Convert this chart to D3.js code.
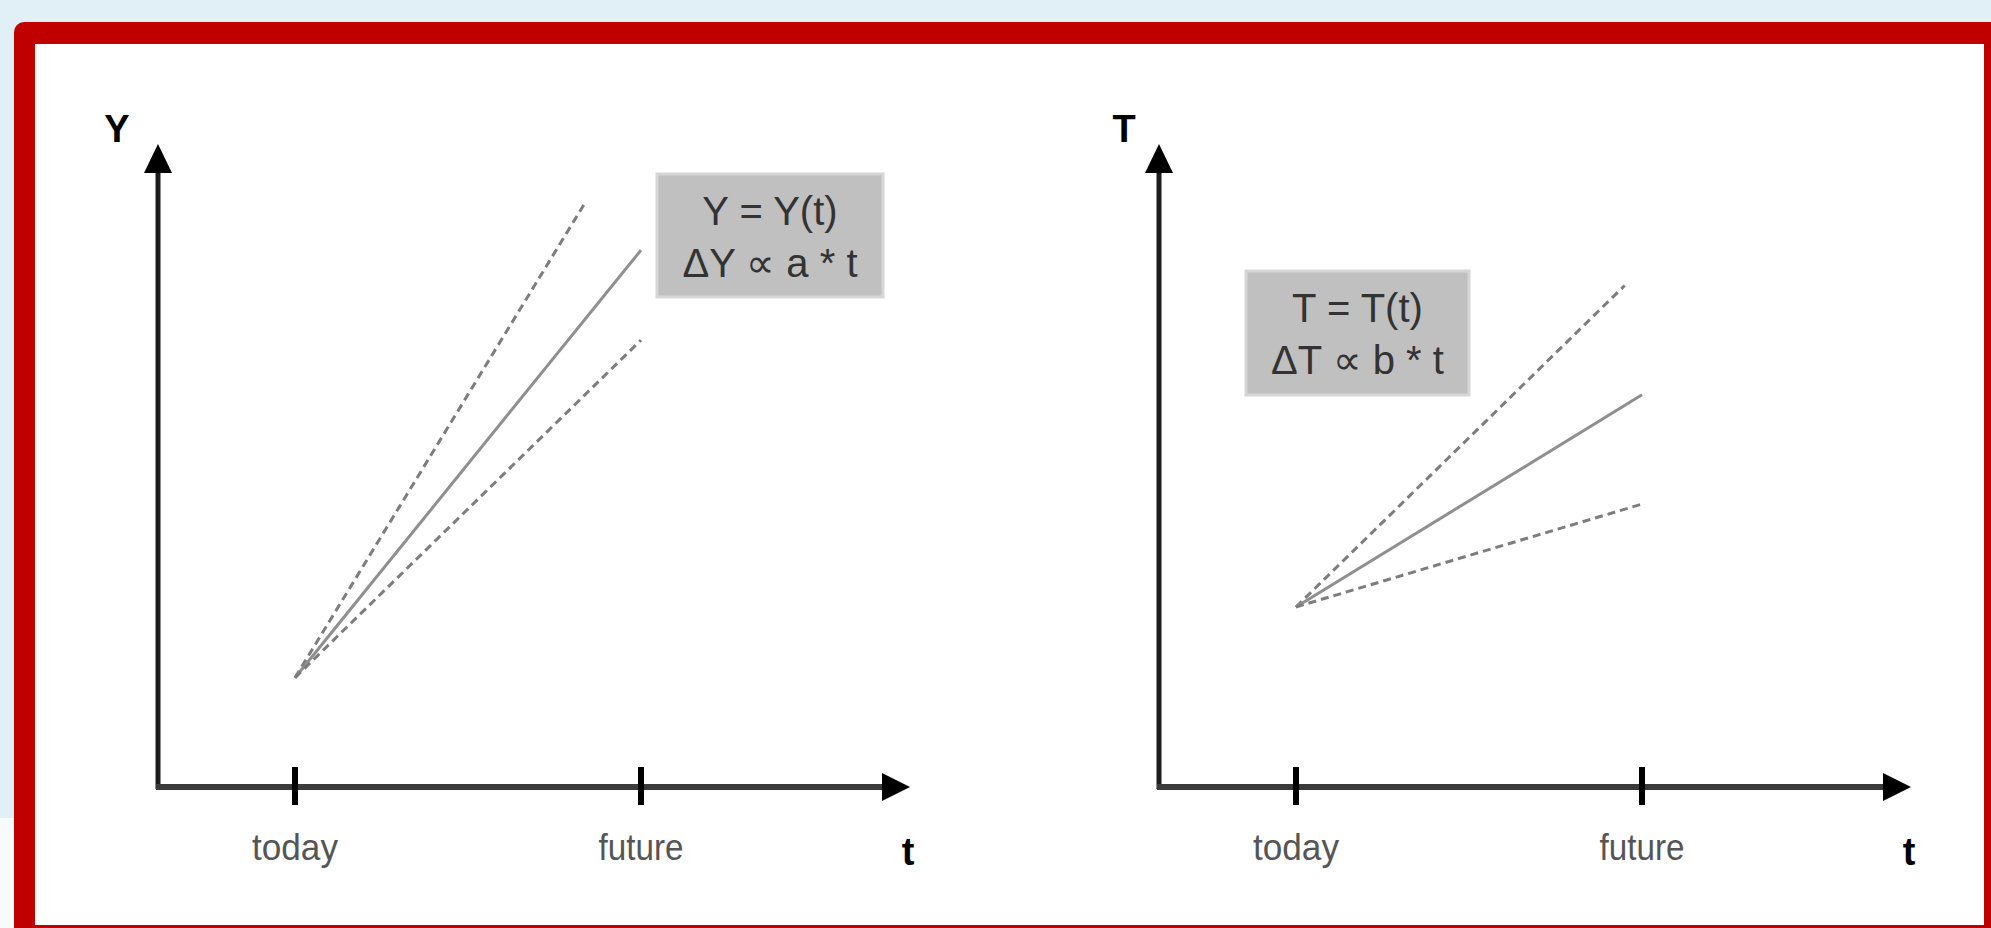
<!DOCTYPE html>
<html>
<head>
<meta charset="utf-8">
<script src="https://cdn.jsdelivr.net/npm/d3@7/dist/d3.min.js"></script>
<style>
  html, body { margin: 0; padding: 0; background: #e1eff7; overflow: hidden; }
  svg { display: block; }
</style>
</head>
<body>
<svg id="chart" width="1991" height="928"></svg>
<script>
// ---- data ----
const tickLabels = ["today", "future"];
const tickValues = [0, 1];
const yAxisLabels = ["Y", "T"];
const xAxisLabel = "t";
const formulaLine1 = ["Y = Y(t)", "T = T(t)"];
const formulaLine2 = ["ΔY ∝ a * t", "ΔT ∝ b * t"];
const seriesNames = ["upper", "central", "lower"];
const startValues = [17, 28];              // value "today" for each panel
const endTimes = [[0.84, 1.0, 1.0], [0.95, 1.0, 1.0]];   // per panel, per series
const endValues = [[91, 83.5, 69.5], [78, 61, 44]];      // per panel, per series

// ---- layout ----
const svg = d3.select("#chart");
const W = 1991, H = 928;

// frame
svg.append("rect").attr("x", 0).attr("y", 818).attr("width", 14).attr("height", 110).attr("fill", "#f8fbfd");
svg.append("rect").attr("x", 14).attr("y", 22).attr("width", W).attr("height", H).attr("rx", 10).attr("fill", "#c00000");
svg.append("rect").attr("x", 35).attr("y", 44).attr("width", 1984 - 35).attr("height", 925 - 44).attr("fill", "#ffffff");

const panels = [
  { ox: 158, box: { x: 657, y: 174, w: 226, h: 123 } },
  { ox: 1159, box: { x: 1246, y: 271, w: 223, h: 124 } }
];
const baseY = 787, topY = 144, axisLen = 752;
const font = "'Liberation Sans', Arial, sans-serif";

panels.forEach((p, i) => {
  const g = svg.append("g");
  const x = d3.scaleLinear().domain([0, 1]).range([p.ox + 137, p.ox + 483]);
  const y = d3.scaleLinear().domain([0, 100]).range([baseY, topY]);

  // axes
  g.append("line").attr("x1", p.ox).attr("y1", baseY + 2).attr("x2", p.ox).attr("y2", topY + 20)
    .attr("stroke", "#1c1c1c").attr("stroke-width", 5);
  g.append("line").attr("x1", p.ox - 2).attr("y1", baseY).attr("x2", p.ox + axisLen - 20).attr("y2", baseY)
    .attr("stroke", "#3a3a3a").attr("stroke-width", 6);
  // arrowheads
  g.append("path").attr("d", `M${p.ox},${topY} L${p.ox - 14},${topY + 29} L${p.ox + 14},${topY + 29} Z`).attr("fill", "#000");
  const ex = p.ox + axisLen;
  g.append("path").attr("d", `M${ex},${baseY} L${ex - 28},${baseY - 14} L${ex - 28},${baseY + 14} Z`).attr("fill", "#000");

  // ticks
  g.selectAll(".tick").data(tickValues).join("line")
    .attr("x1", d => x(d)).attr("x2", d => x(d))
    .attr("y1", baseY - 20).attr("y2", baseY + 18)
    .attr("stroke", "#000").attr("stroke-width", 6);
  g.selectAll(".ticklabel").data(tickLabels).join("text")
    .attr("x", (d, j) => x(tickValues[j])).attr("y", 860)
    .attr("text-anchor", "middle")
    .attr("font-family", font).attr("font-size", 36).attr("fill", "#555")
    .attr("textLength", d => d === "today" ? 86 : 85).attr("lengthAdjust", "spacingAndGlyphs")
    .text(d => d);

  // axis labels
  g.append("text").attr("x", p.ox - 41 + (i === 1 ? 6 : 0)).attr("y", 142)
    .attr("text-anchor", "middle").attr("font-family", font).attr("font-weight", "bold")
    .attr("font-size", 38).attr("fill", "#000").text(yAxisLabels[i]);
  g.append("text").attr("x", ex - 2).attr("y", 865)
    .attr("text-anchor", "middle").attr("font-family", font).attr("font-weight", "bold")
    .attr("font-size", 38).attr("fill", "#000").text(xAxisLabel);

  // lines
  const lineGen = d3.line().x(d => x(d[0])).y(d => y(d[1]));
  seriesNames.forEach((s, k) => {
    const pts = [[0, startValues[i]], [endTimes[i][k], endValues[i][k]]];
    g.append("path").attr("d", lineGen(pts))
      .attr("fill", "none")
      .attr("stroke", k === 1 ? "#8f8f8f" : "#7d7d7d")
      .attr("stroke-width", 3)
      .attr("stroke-dasharray", k === 1 ? null : "8,5");
  });

  // formula box
  const b = p.box;
  g.append("rect").attr("x", b.x).attr("y", b.y).attr("width", b.w).attr("height", b.h)
    .attr("fill", "#c0c0c0").attr("stroke", "#d6d6d6").attr("stroke-width", 3);
  g.append("text").attr("x", b.x + b.w / 2).attr("y", b.y + 51)
    .attr("text-anchor", "middle").attr("font-family", font).attr("font-size", 40).attr("fill", "#333")
    .text(formulaLine1[i]);
  g.append("text").attr("x", b.x + b.w / 2).attr("y", b.y + 103)
    .attr("text-anchor", "middle").attr("font-family", font).attr("font-size", 40).attr("fill", "#333")
    .text(formulaLine2[i]);
});
</script>
</body>
</html>
